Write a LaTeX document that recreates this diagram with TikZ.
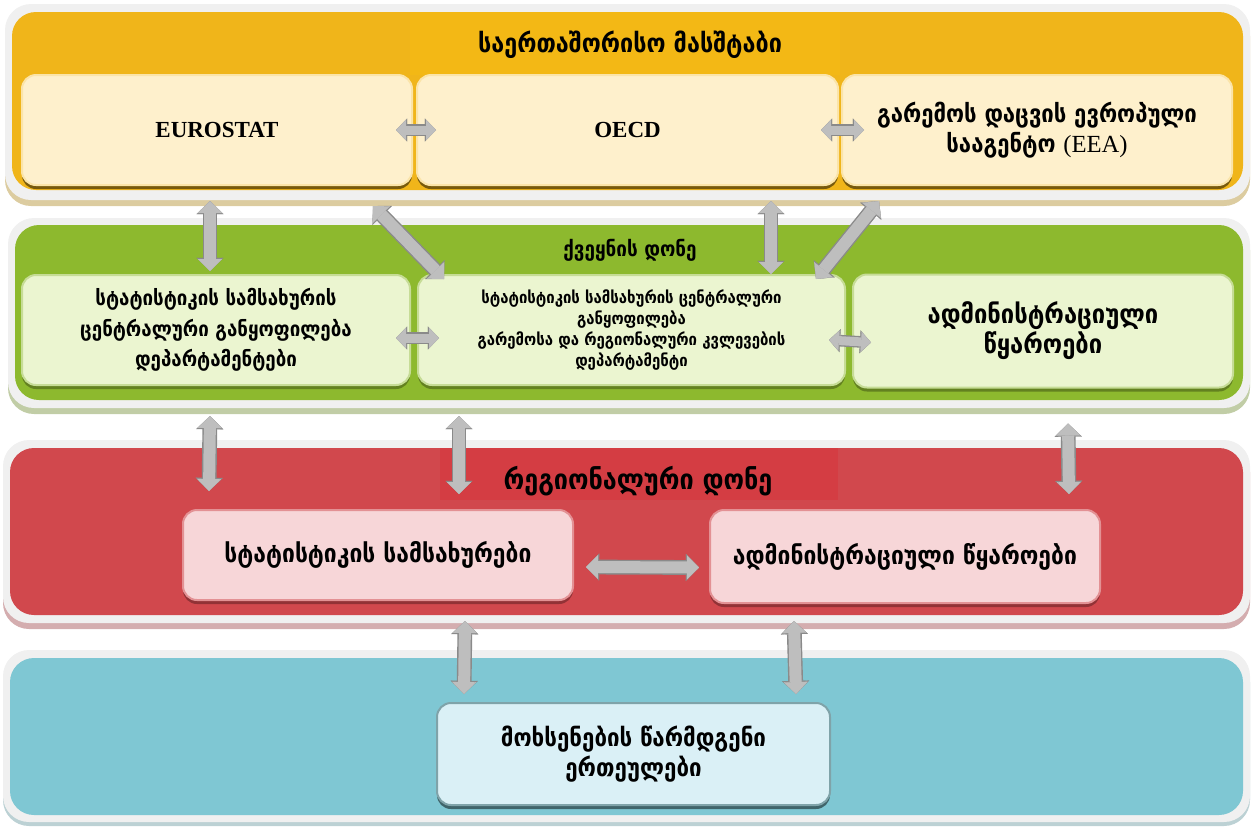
\documentclass[tikz,border=0pt]{standalone}
\usepackage{fontspec}
\setmainfont{DejaVu Sans}[FakeStretch=0.9]
\newfontfamily\latin{Liberation Serif}
\usetikzlibrary{arrows.meta,shadows}

\definecolor{framegrey}{HTML}{F0F0F0}
\definecolor{bandyellow}{HTML}{F0B51A}
\definecolor{titleyellow}{HTML}{F3B815}
\definecolor{boxcream}{HTML}{FEF0CC}
\definecolor{bandgreen}{HTML}{8DB92E}
\definecolor{boxgreen}{HTML}{EBF5D0}
\definecolor{bandred}{HTML}{D1484D}
\definecolor{titlered}{HTML}{D43D43}
\definecolor{boxpink}{HTML}{F7D6D8}
\definecolor{bandblue}{HTML}{7FC7D3}
\definecolor{boxblue}{HTML}{DAF0F6}
\definecolor{arrowfill}{HTML}{BEBEBE}
\definecolor{arrowedge}{HTML}{8A8A8A}

\tikzset{
  box/.style={rectangle, rounded corners=7pt, line width=1pt, align=center, inner sep=2pt},
  ybox/.style={box, fill=boxcream, draw=boxcream!80!bandyellow,
    drop shadow={shadow xshift=0pt, shadow yshift=-2pt, opacity=1, fill=bandyellow!50!black}},
  gbox/.style={box, fill=boxgreen, draw=bandgreen!50!white,
    drop shadow={shadow xshift=0pt, shadow yshift=-2pt, opacity=1, fill=bandgreen!70!black}},
  rbox/.style={box, fill=boxpink, draw=bandred!60!white,
    drop shadow={shadow xshift=0pt, shadow yshift=-2pt, opacity=1, fill=bandred!70!black}},
  bbox/.style={box, fill=boxblue, draw=bandblue!50!gray,
    drop shadow={shadow xshift=0pt, shadow yshift=-2pt, opacity=1, fill=bandblue!50!black}},
  link/.style={draw=arrowfill, line width=6pt,
    {Triangle[length=6pt,width=12pt,line width=0.1pt]}-{Triangle[length=6pt,width=12pt,line width=0.1pt]},
    preaction={draw=arrowedge, line width=7.4pt,
      {Triangle[length=6.6pt,width=13.6pt,line width=0.1pt]}-{Triangle[length=6.6pt,width=13.6pt,line width=0.1pt]}}},
  slink/.style={draw=arrowfill, line width=4.5pt,
    {Triangle[length=5pt,width=10pt,line width=0.1pt]}-{Triangle[length=5pt,width=10pt,line width=0.1pt]},
    preaction={draw=arrowedge, line width=5.8pt,
      {Triangle[length=5.6pt,width=11.6pt,line width=0.1pt]}-{Triangle[length=5.6pt,width=11.6pt,line width=0.1pt]}}},
}

\begin{document}
\begin{tikzpicture}[x=0.5pt, y=-0.5pt]
  \useasboundingbox (0,0) rectangle (1254,826);

  % bands
  \fill[black!30!bandyellow!40!white, rounded corners=13pt] (5,10) rectangle (1250,206);
  \fill[framegrey, rounded corners=13pt] (5,4) rectangle (1250,200);
  \fill[bandyellow, rounded corners=12pt] (12,12) rectangle (1243,190);
  \fill[titleyellow] (410,12) rectangle (840,75);

  \fill[black!30!bandgreen!40!white, rounded corners=13pt] (8,224) rectangle (1250,414);
  \fill[framegrey, rounded corners=13pt] (8,218) rectangle (1250,408);
  \fill[bandgreen, rounded corners=12pt] (15,225) rectangle (1243,400);

  \fill[black!30!bandred!40!white, rounded corners=13pt] (3,446) rectangle (1250,629);
  \fill[framegrey, rounded corners=13pt] (3,440) rectangle (1250,623);
  \fill[bandred, rounded corners=12pt] (10,448) rectangle (1243,615);
  \fill[titlered] (440,448) rectangle (838,500);

  \fill[black!30!bandblue!40!white, rounded corners=13pt] (3,656) rectangle (1250,826);
  \fill[framegrey, rounded corners=13pt] (3,650) rectangle (1250,822);
  \fill[bandblue, rounded corners=12pt] (10,658) rectangle (1243,815);

  % titles
  \node[font=\bfseries\fontsize{13}{16}\selectfont] (intl) at (630,45) {საერთაშორისო მასშტაბი};
  \node[font=\bfseries\fontsize{10.5}{13}\selectfont] (country) at (630,250) {ქვეყნის დონე};
  \node[font=\bfseries\fontsize{14}{17}\selectfont] (region) at (638,481) {რეგიონალური დონე};

  % international level
  \node[ybox, minimum width=195pt, minimum height=55pt, font=\latin\bfseries\fontsize{11.5}{14}\selectfont] (eurostat) at (217,130) {EUROSTAT};
  \node[ybox, minimum width=210.5pt, minimum height=55pt, font=\latin\bfseries\fontsize{11.5}{14}\selectfont] (oecd) at (627.5,130) {OECD};
  \node[ybox, minimum width=195pt, minimum height=55pt, font=\bfseries\fontsize{12.3}{15}\selectfont] (eea) at (1037,130) {გარემოს დაცვის ევროპული\\სააგენტო {\latin\mdseries (EEA)}};

  % country level
  \node[gbox, minimum width=194pt, minimum height=55pt, font=\bfseries\fontsize{10.4}{15.25}\selectfont] (gleft) at (216,330) {სტატისტიკის სამსახურის\\ცენტრალური განყოფილება\\დეპარტამენტები};
  \node[gbox, minimum width=213.5pt, minimum height=55pt, font=\bfseries\fontsize{8.3}{10.5}\selectfont] (gmid) at (631.5,330) {სტატისტიკის სამსახურის ცენტრალური\\განყოფილება\\გარემოსა და რეგიონალური კვლევების\\დეპარტამენტი};
  \node[gbox, minimum width=190pt, minimum height=56.5pt, font=\bfseries\fontsize{13.2}{15}\selectfont] (gright) at (1043,331) {ადმინისტრაციული\\წყაროები};

  % regional level
  \node[rbox, minimum width=195pt, minimum height=45pt, font=\bfseries\fontsize{12.7}{15}\selectfont] (rstat) at (378,555) {სტატისტიკის სამსახურები};
  \node[rbox, minimum width=195pt, minimum height=46.5pt, font=\bfseries\fontsize{12.7}{15}\selectfont] (radmin) at (905,556.5) {ადმინისტრაციული წყაროები};

  % reporting units
  \node[bbox, minimum width=196.5pt, minimum height=51pt, font=\bfseries\fontsize{12.4}{15}\selectfont] (report) at (633.5,754) {მოხსენების წარმდგენი\\ერთეულები};

  % connectors
  \draw[slink] ([shift={(-17,0)}]eurostat.east) -- ([shift={(20,0)}]oecd.west);
  \draw[slink] ([shift={(-18,0)}]oecd.east) -- ([shift={(23,0)}]eea.west);
  \draw[link] ([shift={(-7,15)}]eurostat.south) -- ([shift={(-6,-3)}]gleft.north);
  \draw[link] ([shift={(-40,20)}]eurostat.south east) -- ([shift={(27,5)}]gmid.north west);
  \draw[link] ([shift={(-68,15)}]oecd.south east) -- ([shift={(-75,0)}]gmid.north east);
  \draw[link] ([shift={(38,15)}]eea.south west) -- ([shift={(-30,5)}]gmid.north east);
  \draw[slink] ([shift={(-15,8)}]gleft.east) -- ([shift={(22,8)}]gmid.west);
  \draw[slink] ([shift={(-17,10)}]gmid.east) -- ([shift={(19,11.5)}]gright.west);
  \draw[link] ([shift={(-6,30)}]gleft.south) -- ([shift={(27,-18)}]rstat.north west);
  \draw[link] ([shift={(42,30)}]gmid.south west) -- ([shift={(277,-15)}]rstat.north west);
  \draw[link] ([shift={(25,35)}]gright.south) -- ([shift={(-32,-15)}]radmin.north east);
  \draw[link] ([shift={(12,12)}]rstat.east) -- ([shift={(-10,11)}]radmin.west);
  \draw[link] ([shift={(87,20)}]rstat.south) -- ([shift={(28,-8)}]report.north west);
  \draw[link] ([shift={(85,17)}]radmin.south west) -- ([shift={(-35,-8)}]report.north east);
\end{tikzpicture}
\end{document}
